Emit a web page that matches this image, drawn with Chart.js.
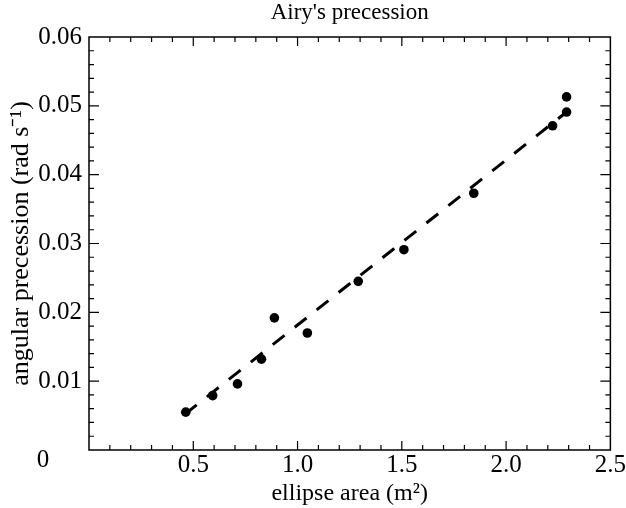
<!DOCTYPE html>
<html>
<head>
<meta charset="utf-8">
<script src="https://cdn.jsdelivr.net/npm/chart.js@4"></script>
<style>
  html, body { margin: 0; padding: 0; background: #fff; }
  #wrap { width: 626px; height: 508px; }
</style>
</head>
<body>
<div id="wrap"><canvas id="chart" width="626" height="508"></canvas></div>
<script>
// measured points
const ellipseArea = [0.464, 0.593, 0.712, 0.827, 0.889, 1.047, 1.291, 1.510, 1.845, 2.223, 2.290, 2.290];
const precession = [0.0055, 0.0079, 0.0096, 0.0132, 0.0192, 0.0170, 0.0245, 0.0291, 0.0373, 0.0471, 0.0513, 0.0491];

// dashed fit line end points
const fitArea = [0.46, 2.29];
const fitPrecession = [0.0052, 0.0491];

const xTickLabels = ['0.5', '1.0', '1.5', '2.0', '2.5'];
const yTickLabels = ['0.01', '0.02', '0.03', '0.04', '0.05', '0.06'];

const chartTitle = "Airy's precession";
const serif = 'Liberation Serif';

const toPoints = (xs, ys) => xs.map((x, i) => ({ x: x, y: ys[i] }));

// frame, inward ticks on all four sides, title over the plot box, origin label
const framePlugin = {
  id: 'frame',
  afterDraw(chart) {
    const ctx = chart.ctx;
    const area = chart.chartArea;
    const xs = chart.scales.x;
    const ys = chart.scales.y;
    ctx.save();
    ctx.strokeStyle = '#000';
    ctx.lineWidth = 1.5;
    ctx.strokeRect(area.left, area.top, area.right - area.left, area.bottom - area.top);

    ctx.lineWidth = 1.2;
    ctx.beginPath();
    for (let k = 1; k < 25; k++) {
      const px = xs.getPixelForValue(k / 10);
      const len = k % 5 === 0 ? 9 : 5;
      ctx.moveTo(px, area.bottom); ctx.lineTo(px, area.bottom - len);
      ctx.moveTo(px, area.top); ctx.lineTo(px, area.top + len);
    }
    for (let k = 1; k < 30; k++) {
      const py = ys.getPixelForValue(k / 500);
      const len = k % 5 === 0 ? 10 : 5;
      ctx.moveTo(area.left, py); ctx.lineTo(area.left + len, py);
      ctx.moveTo(area.right, py); ctx.lineTo(area.right - len, py);
    }
    ctx.stroke();

    ctx.fillStyle = '#000';
    ctx.textAlign = 'center';
    ctx.textBaseline = 'alphabetic';
    ctx.font = '23px "' + serif + '"';
    ctx.fillText(chartTitle, (area.left + area.right) / 2, 19);

    ctx.font = '25px "' + serif + '"';
    ctx.textBaseline = 'middle';
    ctx.fillText('0', 43, ys.getPixelForValue(0) + 10);
    ctx.restore();
  }
};

new Chart(document.getElementById('chart'), {
  type: 'scatter',
  data: {
    datasets: [
      {
        label: 'measured',
        data: toPoints(ellipseArea, precession),
        backgroundColor: '#000',
        borderWidth: 0,
        pointRadius: 4.8,
        pointHoverRadius: 4.8
      },
      {
        label: 'fit',
        data: toPoints(fitArea, fitPrecession),
        showLine: true,
        borderColor: '#000',
        borderWidth: 3,
        borderDash: [15, 13],
        pointRadius: 0,
        fill: false
      }
    ]
  },
  options: {
    responsive: false,
    animation: false,
    events: [],
    layout: { padding: { left: 0, right: 14, top: 37, bottom: 0 } },
    plugins: {
      legend: { display: false },
      tooltip: { enabled: false },
      title: { display: false }
    },
    scales: {
      x: {
        type: 'linear',
        min: 0,
        max: 2.5,
        grid: { display: false, drawTicks: false },
        border: { display: false },
        ticks: {
          stepSize: 0.1,
          autoSkip: false,
          maxRotation: 0,
          color: '#000',
          padding: 0,
          font: { family: serif, size: 25 },
          callback: (v) => {
            const k = Math.round(v * 10);
            return k > 0 && k % 5 === 0 ? xTickLabels[k / 5 - 1] : '';
          }
        },
        title: {
          display: true,
          text: 'ellipse area (m\u00B2)',
          color: '#000',
          font: { family: serif, size: 24 },
          padding: { top: 0, bottom: 0 }
        },
        afterFit: (scale) => { scale.height = 58; }
      },
      y: {
        type: 'linear',
        min: 0,
        max: 0.06,
        grid: { display: false, drawTicks: false },
        border: { display: false },
        ticks: {
          stepSize: 0.002,
          autoSkip: false,
          color: '#000',
          padding: 7,
          font: { family: serif, size: 25 },
          callback: (v) => {
            const k = Math.round(v * 500);
            return k > 0 && k % 5 === 0 ? yTickLabels[k / 5 - 1] : '';
          }
        },
        title: {
          display: true,
          text: 'angular precession (rad s\u207B\u00B9)',
          color: '#000',
          font: { family: serif, size: 26 },
          padding: { top: 6, bottom: 0 }
        },
        afterFit: (scale) => { scale.width = 89; }
      }
    }
  },
  plugins: [framePlugin]
});
</script>
</body>
</html>
